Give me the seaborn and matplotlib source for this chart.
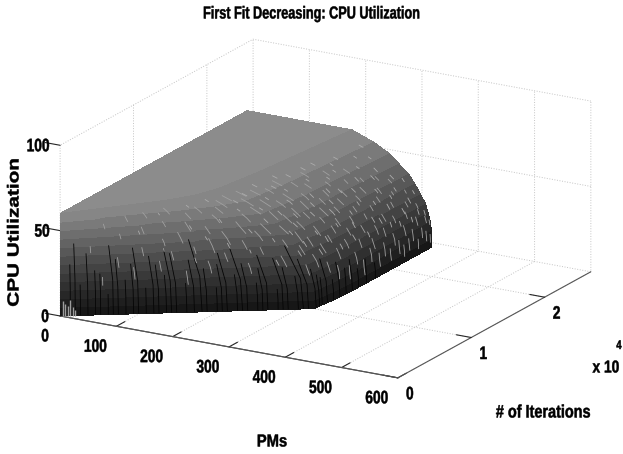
import matplotlib
matplotlib.use('Agg')
import matplotlib.patheffects as pe
import matplotlib.pyplot as plt
import numpy as np
import seaborn as sns
from matplotlib.colors import PowerNorm
from matplotlib.transforms import Affine2D
from mpl_toolkits.mplot3d import proj3d

pm_ticks = [0, 100, 200, 300, 400, 500, 600]
iter_ticks = [0, 10000, 20000]
iter_tick_labels = ['0', '1', '2']
cpu_ticks = [0, 50, 100]

# iterations sampled along the ridge
iterations = [0, 1000, 2000, 4000, 6000, 8000, 10000, 12500, 15000, 20000, 25500]
# CPU level of each row below, and the PM where the surface falls to that level
cpu_levels = [60, 60, 55, 50, 45, 40, 35, 30, 25, 20, 15, 10, 5, 0]
pm_at_level = [
    [0, 0, 0, 0, 0, 0, 0, 0, 0, 0, 0],
    [0, 18, 36, 72, 108, 135, 150, 158, 165, 175, 186],
    [0, 22, 44, 87, 131, 168, 197, 204, 210, 217, 225],
    [0, 25, 49, 98, 147, 192, 230, 237, 242, 247, 253],
    [0, 26, 53, 105, 158, 206, 250, 257, 261, 265, 270],
    [0, 28, 56, 112, 168, 221, 271, 277, 281, 284, 287],
    [0, 29, 58, 116, 174, 231, 284, 291, 294, 296, 298],
    [0, 30, 60, 120, 179, 238, 295, 301, 304, 305, 307],
    [0, 31, 62, 123, 185, 246, 306, 312, 314, 315, 316],
    [0, 31, 63, 125, 188, 250, 312, 318, 320, 320, 321],
    [0, 32, 63, 127, 190, 254, 317, 323, 325, 325, 325],
    [0, 32, 64, 127, 191, 255, 318, 324, 326, 326, 327],
    [0, 32, 64, 128, 192, 256, 320, 326, 328, 328, 328],
    [0, 32, 64, 128, 192, 256, 320, 326, 328, 328, 328],
]

# bright outliers on the slope: iteration, CPU at the top, CPU length
spike_iter = [1300, 1700, 2100, 2400, 2700, 3000, 3300, 3500, 3800, 4100, 4300, 4500, 4700, 4900, 5100,
              5300, 5500, 5700, 5900, 6100, 6300, 6500, 6700, 6900, 7100, 7300, 7500, 7700, 7900, 8100,
              8300, 8500, 8700, 8800, 9000, 9200, 9400, 9500, 9700, 9900, 10000, 10200, 10300, 10500,
              10700, 10800, 11000, 11200, 11300, 11500, 11700, 11800, 12000, 12200, 12300, 12500, 12700,
              12900, 13000, 13200, 13300, 13500, 13700, 13800, 14000, 14200, 14300, 14500, 14600, 14800,
              15000, 15100, 15300, 15500, 15600, 15800, 16000, 16100, 16300, 16400, 16600, 16800, 17000,
              17100, 17300, 17500, 17600, 17800, 18000, 18100, 18300, 18500, 18600, 18800, 19000, 19100,
              19300, 19500, 19700, 19800, 20000, 20200, 20400, 20500, 20700, 20900, 21000, 21200, 21400,
              21600, 21800, 22000, 22200, 22400, 22500, 22700, 22900, 23100, 23300, 23500, 23700, 23900,
              24100, 24300, 24500, 24800, 25000, 25300]
spike_top = [40, 22, 52, 33, 46, 27, 55, 38, 49, 30, 56, 42, 35, 51, 24,
             45, 57, 37, 50, 29, 54, 41, 47, 33, 56, 44, 52, 27, 39, 55,
             48, 35, 57, 43, 51, 30, 46, 58, 38, 53, 25, 56, 44, 34,
             50, 58, 40, 28, 54, 47, 36, 57, 43, 22, 52, 31, 48,
             56, 39, 18, 45, 53, 33, 26, 49, 41, 57, 15, 36, 51,
             44, 28, 55, 38, 20, 47, 32, 53, 42, 14, 25, 49, 36,
             56, 44, 18, 30, 51, 39, 22, 46, 13, 34, 54, 27, 42,
             17, 49, 36, 24, 12, 44, 30, 52, 19, 38, 47, 14, 27,
             41, 10, 33, 20, 45, 12, 37, 26, 16, 42, 30, 9, 21,
             35, 14, 27, 11, 19, 8]
spike_len = [4, 5, 3, 6, 3, 7, 3, 5, 4, 6, 3, 4, 5, 3, 8,
             6, 3, 4, 5, 7, 3, 8, 4, 5, 3, 7, 4, 6, 5, 3,
             6, 4, 3, 5, 4, 6, 5, 2, 4, 3, 6, 3, 4, 5,
             4, 2, 6, 7, 3, 4, 5, 2, 4, 6, 3, 5, 4,
             2, 5, 8, 3, 3, 4, 6, 4, 3, 2, 8, 4, 3,
             4, 5, 2, 4, 7, 3, 4, 2, 3, 9, 5, 3, 4,
             2, 3, 8, 4, 2, 3, 6, 3, 8, 3, 2, 5, 3,
             8, 2, 3, 5, 7, 3, 4, 2, 7, 3, 2, 8, 4,
             3, 7, 3, 6, 2, 7, 2, 4, 7, 2, 3, 6, 5,
             2, 6, 3, 6, 4, 5]

# smaller flecks, mostly on the upper slope towards the far end
fleck_iter = [3600, 4400, 5000, 5600, 6000, 6400, 6800, 7200, 7600, 8000, 8200, 8600, 8900, 9100, 9300,
              9600, 9800, 10100, 10400, 10600, 10900, 11100, 11400, 11600, 11900, 12100, 12400, 12600,
              12800, 13100, 13400, 13600, 13900, 14100, 14400, 14700, 14900, 15200, 15400, 15700, 15900,
              16200, 16500, 16700, 16900, 17200, 17400, 17700, 17900, 18200, 18400, 18700, 18900, 19200,
              19400, 19600, 19900, 20100, 20300, 20600, 20800, 21100, 21300, 21500, 21700, 21900, 22100,
              22300, 22600, 22800, 23000, 23200, 23400, 23600, 23800, 24000, 24200, 24400, 24600, 24900,
              25100, 25400]
fleck_top = [47, 37, 55, 31, 48, 42, 57, 38, 50, 34, 58, 44, 28, 53, 39,
             56, 48, 32, 52, 41, 57, 35, 49, 43, 54, 29, 46, 58, 37, 51,
             33, 56, 44, 54, 27, 47, 58, 36, 50, 42, 57, 28, 45, 54, 33,
             49, 38, 57, 26, 47, 52, 40, 57, 31, 45, 53, 29, 55, 37, 48,
             25, 56, 41, 33, 51, 23, 46, 36, 54, 28, 48, 38, 22, 52, 43,
             31, 56, 24, 40, 33, 22, 16]
fleck_len = [2, 2, 1, 3, 2, 2, 1, 3, 2, 2, 1, 2, 3, 1, 2,
             1, 2, 3, 1, 2, 1, 3, 2, 2, 1, 3, 2, 1, 2, 2,
             3, 1, 2, 1, 3, 2, 1, 2, 2, 3, 1, 3, 2, 1, 3,
             2, 2, 1, 3, 2, 1, 2, 1, 3, 2, 1, 3, 1, 2, 2,
             3, 1, 2, 3, 1, 3, 2, 2, 1, 3, 2, 2, 3, 1, 2,
             3, 1, 3, 2, 2, 3, 3]

# dark dropouts near the floor: iteration and CPU at the top
dropout_iter = [400, 600, 800, 1100, 1400, 1600, 1900, 2100, 2300, 2600, 2900, 3100, 3400, 3700, 3900,
                4200, 4400, 4600, 5000, 5300, 5600, 5800, 6200, 6400, 6600, 7000, 7200, 7400, 7800, 8000,
                8200, 8600, 8800, 9000, 9400, 9600, 9800, 10300, 10700, 11000, 11600, 12300, 13100, 13900,
                14700, 15500, 16600, 17800]
dropout_top = [30, 42, 18, 36, 26, 24, 12, 40, 32, 20, 29, 38, 15, 33, 28,
               22, 37, 34, 17, 30, 41, 25, 14, 27, 33, 21, 36, 27, 16, 24,
               31, 12, 29, 24, 19, 35, 28, 22, 18, 16, 25, 12, 20, 15, 18, 11, 14, 9]

# pale patch at the corner by PM 0
corner_iter = [100, 200, 300, 400, 500, 600]
corner_top = [9, 7, 6, 9, 5, 3]

sns.set_theme(style='white')
narrow = ['Liberation Sans', 'DejaVu Sans']


class Squeeze(pe.AbstractPathEffect):
    """Scale a text about its own centre and thicken it, the reference font is a narrow heavy one."""

    def __init__(self, sx=1.0, sy=1.0, stroke=0.35):
        super().__init__()
        self.sx = sx
        self.sy = sy
        self.stroke = stroke

    def draw_path(self, renderer, gc, tpath, affine, rgbFace=None):
        box = tpath.get_extents(affine)
        cx, cy = (box.x0 + box.x1) / 2, (box.y0 + box.y1) / 2
        extra = Affine2D().translate(-cx, -cy).scale(self.sx, self.sy).translate(cx, cy)
        gc0 = renderer.new_gc()
        gc0.copy_properties(gc)
        gc0.set_linewidth(self.stroke)
        gc0.set_foreground('black')
        renderer.draw_path(gc0, tpath, affine + extra, rgbFace)
        gc0.restore()


fig = plt.figure(figsize=(6.23, 4.54), dpi=100)
ax = fig.add_axes([37.6 / 623, -42.4 / 454, 560.6 / 623, 560.6 / 454], projection='3d', proj_type='ortho',
                  computed_zorder=False)
ax.view_init(elev=18.5, azim=-60)
ax.set_box_aspect((390, 386, 180))
ax.patch.set_alpha(0)

ax.set_xlim(0, 600)
ax.set_ylim(0, 26300)
ax.set_zlim(0, 100)
ax.set_xticks(pm_ticks)
ax.set_yticks(iter_ticks)
ax.set_zticks(cpu_ticks)
ax.set_xticklabels([])
ax.set_yticklabels([])
ax.set_zticklabels([])

# z axis on the left, as matlab has it
ax.zaxis._axinfo['juggled'] = (1, 0, 2)

for axis in (ax.xaxis, ax.yaxis, ax.zaxis):
    axis.set_pane_color((1, 1, 1, 0))
    axis.pane.set_edgecolor('#b8b8b8')
    axis.pane.set_linestyle(':')
    axis.pane.set_linewidth(0.7)
    axis.line.set_color('#555555')
    axis.line.set_linewidth(0.8)
    axis._axinfo['grid'].update(color='#c4c4c4', linestyle=':', linewidth=0.7)
    axis._axinfo['tick'].update(inward_factor=0.0, outward_factor=0.55, color='#555555',
                                linewidth={True: 0.8, False: 0.8})
ax.grid(True)

Y = np.tile(iterations, (len(cpu_levels), 1))
X = np.array(pm_at_level)
Z = np.tile(np.array(cpu_levels)[:, None], (1, len(iterations)))
ax.plot_surface(X, Y, Z, cmap=sns.color_palette('gray', as_cmap=True), norm=PowerNorm(1.4, vmin=-20, vmax=103),
                rstride=1, cstride=1, linewidth=0, antialiased=False, shade=False, zorder=2)


def pm_on_slope(it, cpu):
    # walk down the table to find where an iteration sits at a CPU level
    at_iter = [np.interp(it, iterations, row) for row in pm_at_level[1:]]
    return np.interp(cpu, cpu_levels[:0:-1], at_iter[::-1])


def streak(it, top, bottom, color, lw=0.7):
    cpus = [top, (top + bottom) / 2, bottom]
    pms = [pm_on_slope(it, c) for c in cpus]
    ax.plot(pms, [it] * 3, cpus, color=color, lw=lw, zorder=3, solid_capstyle='butt')


for it, top in zip(dropout_iter, dropout_top):
    streak(it, top, 0, '#050505', lw=0.6)
for it, top, size in zip(spike_iter, spike_top, spike_len):
    streak(it, top, max(top - size, 0), '#a0a0a0', lw=0.6)
for it, top, size in zip(fleck_iter, fleck_top, fleck_len):
    streak(it, top, max(top - size, 0), '#acacac', lw=0.6)
for it, top in zip(corner_iter, corner_top):
    streak(it, top, 0, '#9c9c9c', lw=1.0)


# tick labels placed with pixel offsets from the ticks
def tick_label(text, x, y, z, dx, dy):
    px, py, _ = proj3d.proj_transform(x, y, z, ax.get_proj())
    t = ax.annotate(text, xy=(px, py), xytext=(dx, dy), textcoords='offset pixels',
                    ha='center', va='center', fontsize=13, fontweight='bold', family=narrow,
                    color='black', annotation_clip=False)
    t.set_path_effects([Squeeze(sx=0.76)])


for t in pm_ticks:
    tick_label(str(t), t, 0, 0, -15 if t == 0 else -21, -21)
for t, lab in zip(iter_ticks, iter_tick_labels):
    tick_label(lab, 600, t, 0, 12, -17)
for t, dx in zip(cpu_ticks, [-15, -18, -22]):
    tick_label(str(t), 0, 0, t, dx, -1.5)


def label(x, y, text, size, sx=0.76, sy=1.0, **kw):
    t = fig.text(x / 623, 1 - y / 454, text, ha='center', va='center', fontsize=size, fontweight='bold',
                 family=narrow, color='black', **kw)
    t.set_path_effects([Squeeze(sx=sx, sy=sy)])


label(312, 14, 'First Fit Decreasing: CPU Utilization', 12.5, sx=0.73)
label(14, 232, 'CPU Utilization', 11.5, sx=1.0, sy=1.3, rotation=90)
label(543, 413, '# of Iterations', 13, sx=0.8)
label(272, 442, 'PMs', 12.5, sx=0.85)
label(606, 368, 'x 10', 12.4, sx=0.8)
label(619, 346, '4', 9)

fig.savefig('out.png', dpi=100)
